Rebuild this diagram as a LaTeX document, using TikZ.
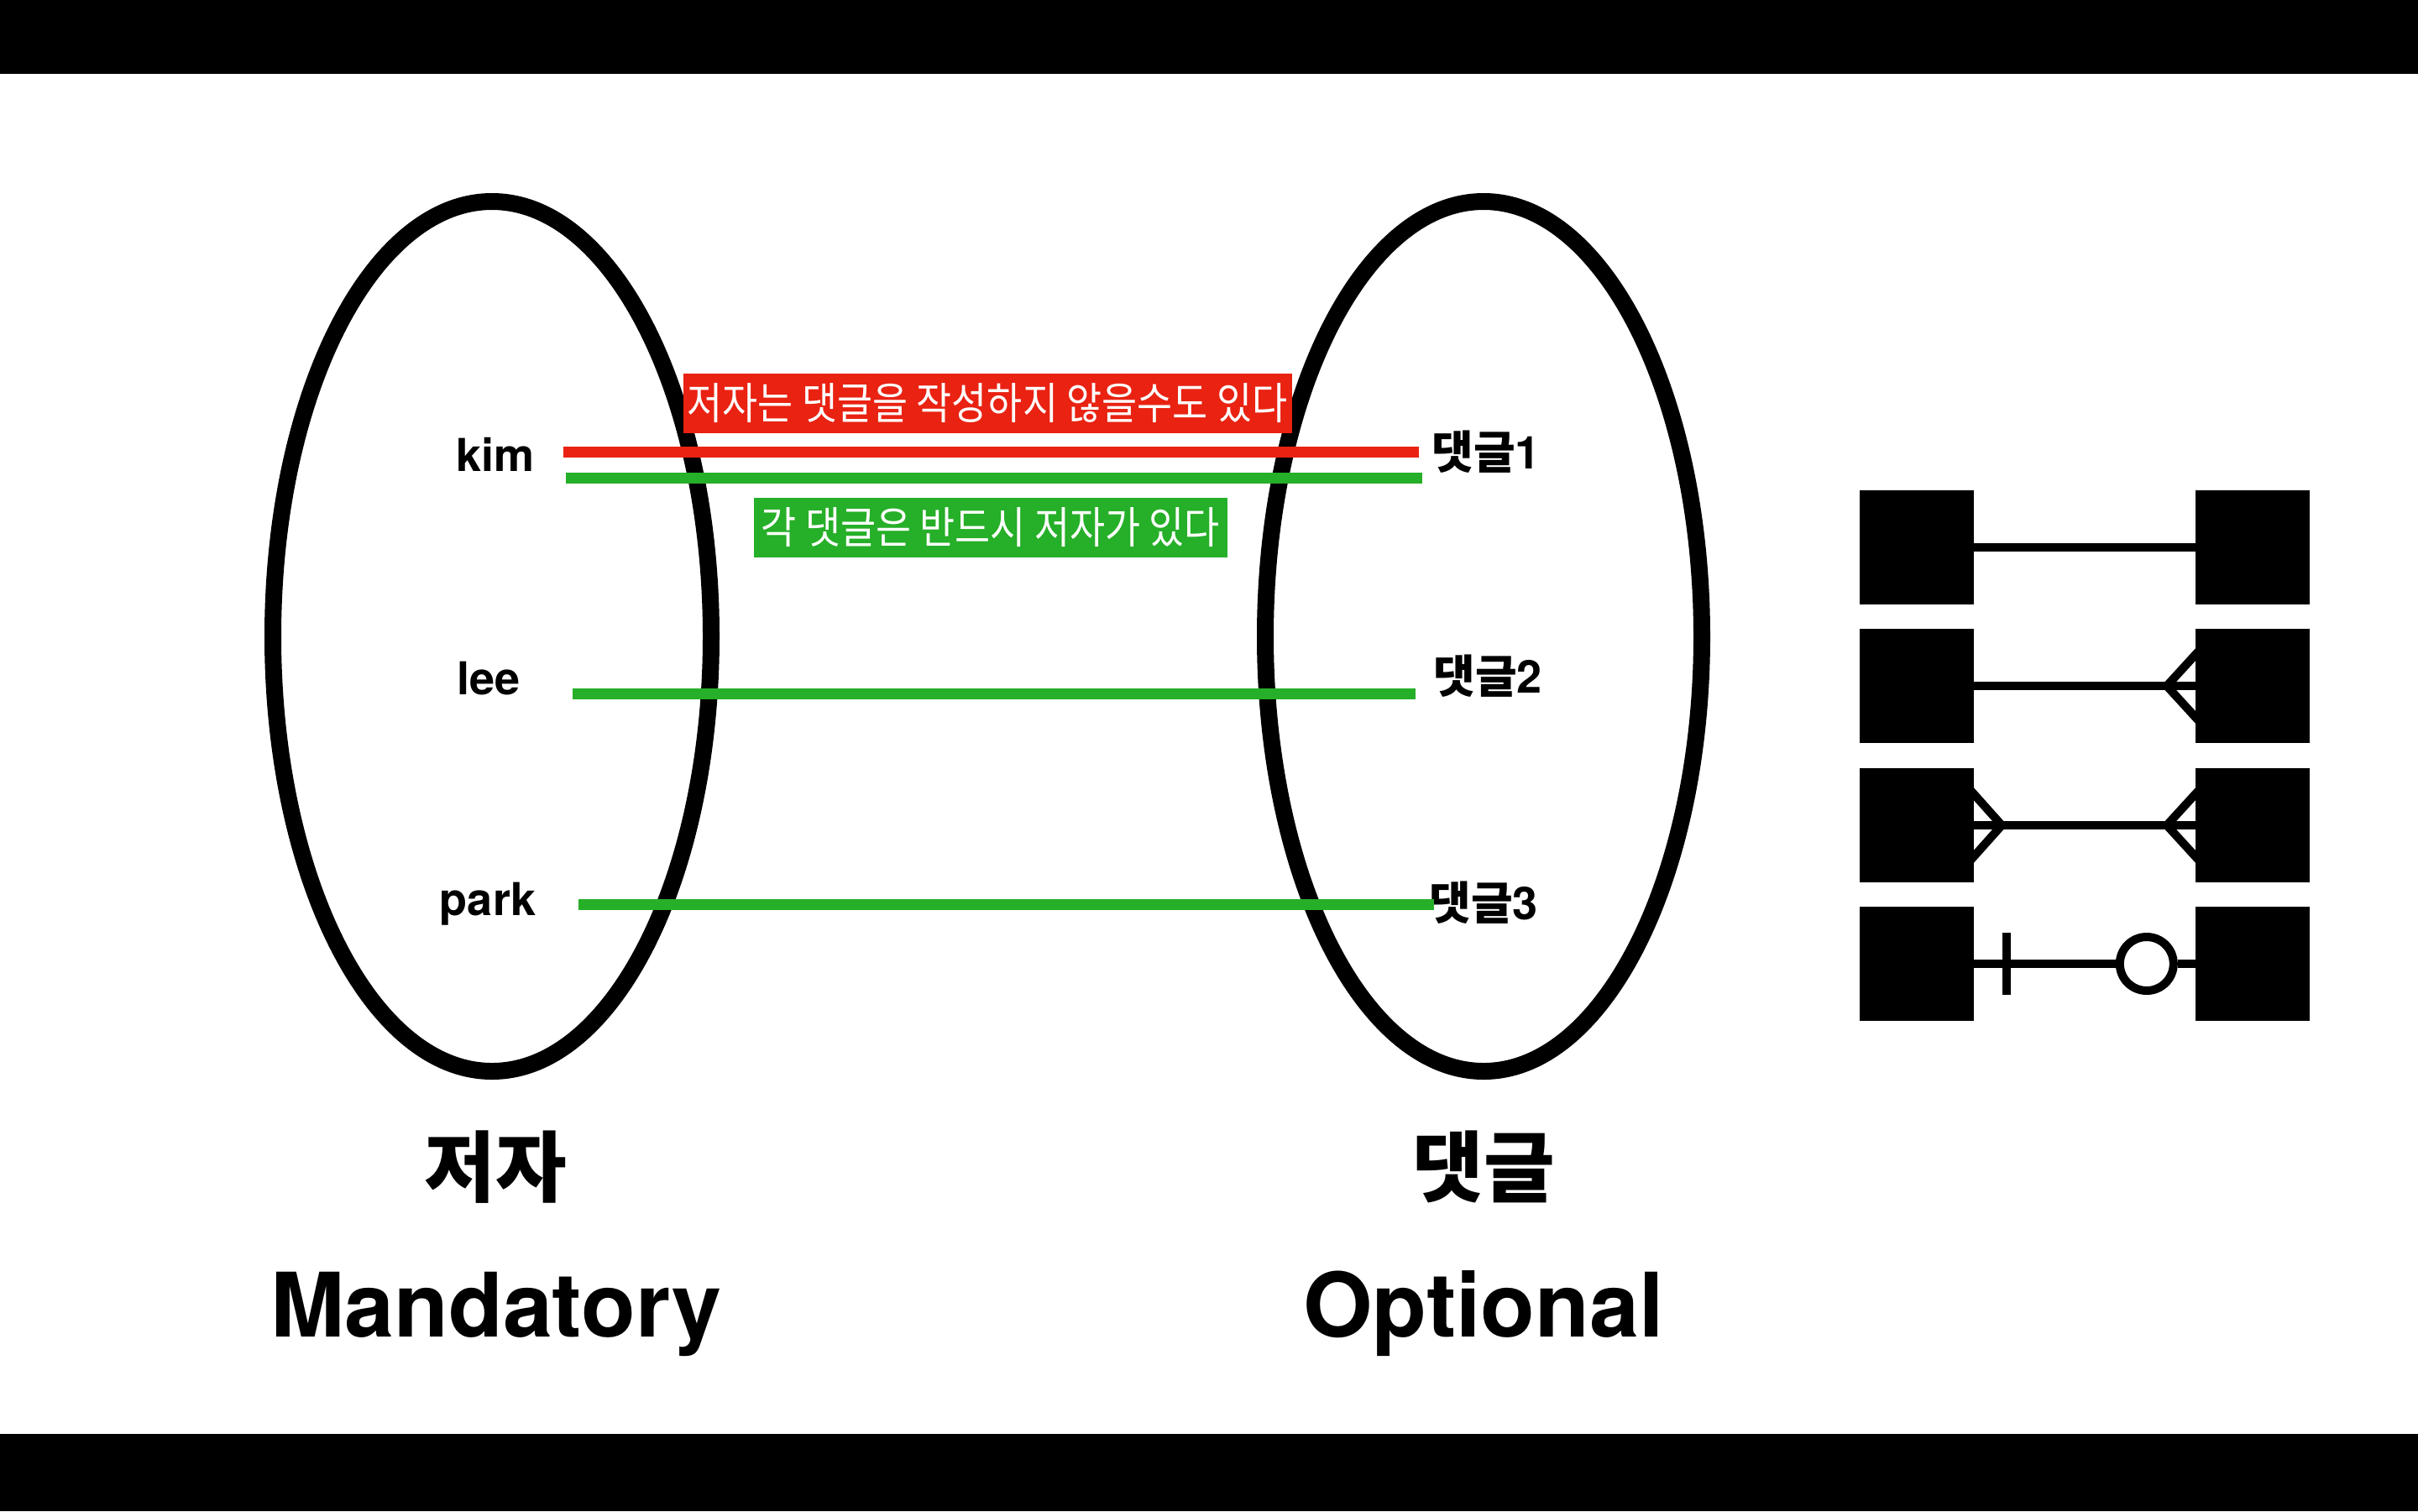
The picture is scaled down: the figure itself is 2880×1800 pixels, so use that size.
\documentclass[tikz,border=0pt]{standalone}
\usepackage{fontspec}
\setmainfont{TeX Gyre Heros}
\newfontfamily\krfont{Noto Sans CJK KR}
\newfontfamily\krnarrow{Noto Sans CJK KR}[FakeStretch=0.88]
\usetikzlibrary{positioning}
\definecolor{notered}{RGB}{233,34,18}
\definecolor{notegreen}{RGB}{38,175,40}

\begin{document}
\begin{tikzpicture}[x=1pt,y=-1pt,
set ring/.style={draw,line width=20pt},
item label/.style={inner sep=0pt,font=\fontsize{54}{60}\selectfont\bfseries},
set title/.style={inner sep=0pt,font=\fontsize{92}{100}\selectfont\krfont\bfseries},
kind label/.style={inner sep=0pt,font=\fontsize{106}{120}\selectfont\bfseries},
note box/.style={inner sep=0pt,minimum height=71pt,text=white,font=\fontsize{52}{56}\selectfont\krnarrow},
link/.style={line width=13pt},
entity/.style={fill=black,minimum size=136pt,inner sep=0pt},
er line/.style={line width=10pt}]
% frame
\fill[white] (0,0) rectangle (2880,1800);
\fill[black] (0,0) rectangle (2880,88);
\fill[black] (0,1708) rectangle (2880,1800);
\useasboundingbox (0,0) rectangle (2880,1800);
% sets
\draw[set ring] (586,758) ellipse [x radius=261pt,y radius=518pt];
\draw[set ring] (1767,758) ellipse [x radius=260pt,y radius=518pt];
\node[item label] (kim) at (590,541) {kim};
\node[item label] (lee) at (582,808) {lee};
\node[item label] (park) at (581,1077) {park};
\node[item label] (c1) at (1770,538) {{\krfont 댓글}1};
\node[item label] (c2) at (1772,805) {{\krfont 댓글}2};
\node[item label] (c3) at (1767,1075) {{\krfont 댓글}3};
\node[set title] (author) at (590,1390) {저자};
\node[set title] (comment) at (1767,1390) {댓글};
\node[kind label] (mand) at (591,1565) {Mandatory};
\node[kind label] (opt) at (1767,1565) {Optional};
% links
\coordinate (k0) at ([shift={(34pt,3pt)}]kim.east);
\coordinate (k1) at ([shift={(37pt,-28pt)}]kim.east);
\coordinate (l0) at ([shift={(62pt,-18pt)}]lee.east);
\coordinate (p0) at ([shift={(51pt,0pt)}]park.east);
\draw[link,notered,shorten >=15pt] (k0) -- (k0 -| c1.west);
\draw[link,notegreen,shorten >=11pt] (k1) -- (k1 -| c1.west);
\draw[link,notegreen,shorten >=21pt] (l0) -- (l0 -| c2.west);
\draw[link,notegreen,shorten >=-6pt] (p0) -- (p0 -| c3.west);
\node[note box,fill=notered,minimum width=725pt] (maybe) at (1176,480) {저자는 댓글을 작성하지 않을수도 있다};
\node[note box,fill=notegreen,minimum width=564pt] (must) at (1180,628) {각 댓글은 반드시 저자가 있다};
% notation
\node[entity] (l1) at (2283,652) {};
\node[entity] (r1) at (2683,652) {};
\node[entity] (l2) at (2283,817) {};
\node[entity] (r2) at (2683,817) {};
\node[entity] (l3) at (2283,983) {};
\node[entity] (r3) at (2683,983) {};
\node[entity] (l4) at (2283,1148) {};
\node[entity] (r4) at (2683,1148) {};
\draw[er line] (l1) -- (r1);
\draw[er line] (l2) -- (r2);
\draw[er line] ([shift={(9pt,47pt)}]r2.west) -- ([xshift=-34pt]r2.west) -- ([shift={(9pt,-47pt)}]r2.west);
\draw[er line] (l3) -- (r3);
\draw[er line] ([shift={(-9pt,47pt)}]l3.east) -- ([xshift=33pt]l3.east) -- ([shift={(-9pt,-47pt)}]l3.east);
\draw[er line] ([shift={(9pt,47pt)}]r3.west) -- ([xshift=-34pt]r3.west) -- ([shift={(9pt,-47pt)}]r3.west);
\node[draw,circle,er line,fill=white,minimum size=64pt,inner sep=0pt] (o4) at ([xshift=-58pt]r4.west) {};
\draw[er line] (l4) -- (o4) (o4) -- (r4);
\draw[er line] ([shift={(39pt,37pt)}]l4.east) -- ([shift={(39pt,-37pt)}]l4.east);
\end{tikzpicture}
\end{document}
